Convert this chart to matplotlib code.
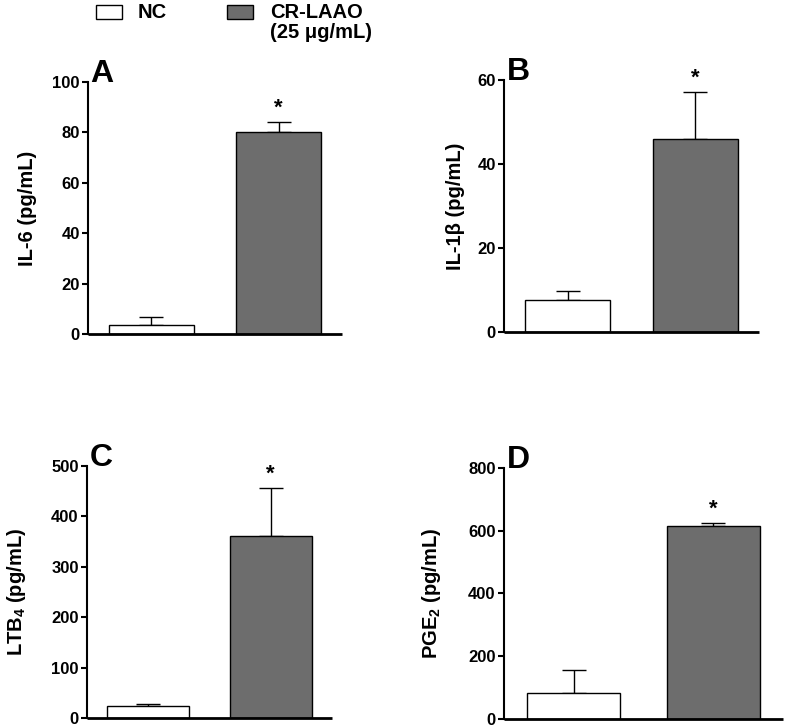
import matplotlib
matplotlib.use("Agg")
import matplotlib.pyplot as plt
from matplotlib.patches import Rectangle

plt.rcParams['font.family'] = ['Liberation Sans', 'DejaVu Sans']
plt.rcParams['font.weight'] = 'bold'
plt.rcParams['mathtext.fontset'] = 'custom'
plt.rcParams['mathtext.rm'] = 'Liberation Sans'
plt.rcParams['mathtext.default'] = 'regular'

groups = ["NC", "CR-LAAO (25 μg/mL)"]
panel_letters = ["A", "B", "C", "D"]
ylabels = ["IL-6 (pg/mL)", "IL-1β (pg/mL)", "LTB$_4$ (pg/mL)", "PGE$_2$ (pg/mL)"]
means = [[3.5, 80.2], [7.6, 46.0], [24, 362], [84, 616]]
sems = [[3.3, 4.0], [2.2, 11.2], [4.5, 95], [72, 9]]
ymax = [100, 60, 500, 800]
ysteps = [20, 20, 100, 200]

bar_colors = ["white", "#6d6d6d"]

axes_pos = [
    [0.1118, 0.5412, 0.3228, 0.3462],
    [0.6404, 0.5440, 0.3240, 0.3460],
    [0.1105, 0.0137, 0.3113, 0.3462],
    [0.6404, 0.0124, 0.3545, 0.3448],
]
label_pads = [11, 8.5, 17, 18]

fig = plt.figure(figsize=(7.87, 7.28), dpi=100)

for i in range(4):
    ax = fig.add_axes(axes_pos[i])
    x = [0, 1]
    ax.bar(x, means[i], width=0.67, color=bar_colors, edgecolor="black",
           linewidth=1.0, zorder=2)
    for xi, m, e in zip(x, means[i], sems[i]):
        ax.errorbar([xi], [m], yerr=[[0], [e]], fmt="none", ecolor="black",
                    elinewidth=1.0, capsize=8.5, capthick=1.0, zorder=1)
        if xi == 1:
            ax.annotate("*", xy=(xi, m + e), xytext=(0, 2),
                        textcoords="offset points", ha="center", va="bottom",
                        fontsize=16, fontweight="bold")
    ax.set_xlim(-0.5, 1.5)
    ax.set_ylim(0, ymax[i])
    ax.set_yticks(range(0, ymax[i] + 1, ysteps[i]))
    ax.set_xticks([])
    for s in ["top", "right"]:
        ax.spines[s].set_visible(False)
    ax.spines["left"].set_linewidth(1.5)
    ax.spines["bottom"].set_linewidth(2.0)
    ax.spines["bottom"].set_capstyle("butt")
    ax.tick_params(axis="y", length=4.5, width=1.5, labelsize=12, pad=1.5)
    for lab in ax.get_yticklabels():
        lab.set_fontweight("bold")
    ax.set_ylabel(ylabels[i], fontsize=14.5, fontweight="bold", labelpad=label_pads[i])
    ax.patch.set_alpha(0)
    ax.text(0.01, 1.0, panel_letters[i], transform=ax.transAxes,
            ha="left", va="baseline", fontsize=23, fontweight="bold")

# legend
fig.patches.append(Rectangle((0.122, 0.974), 0.033, 0.0192, transform=fig.transFigure,
                             facecolor=bar_colors[0], edgecolor="black", linewidth=1.0))
fig.text(0.1753, 0.9835, groups[0], ha="left", va="center", fontsize=14.5, fontweight="bold")
fig.patches.append(Rectangle((0.2884, 0.974), 0.033, 0.0192, transform=fig.transFigure,
                             facecolor=bar_colors[1], edgecolor="black", linewidth=1.0))
fig.text(0.343, 0.9835, "CR-LAAO", ha="left", va="center", fontsize=14.5, fontweight="bold")
fig.text(0.343, 0.9547, "(25 μg/mL)", ha="left", va="center", fontsize=14.5, fontweight="bold")

fig.savefig("out.png", dpi=100)
